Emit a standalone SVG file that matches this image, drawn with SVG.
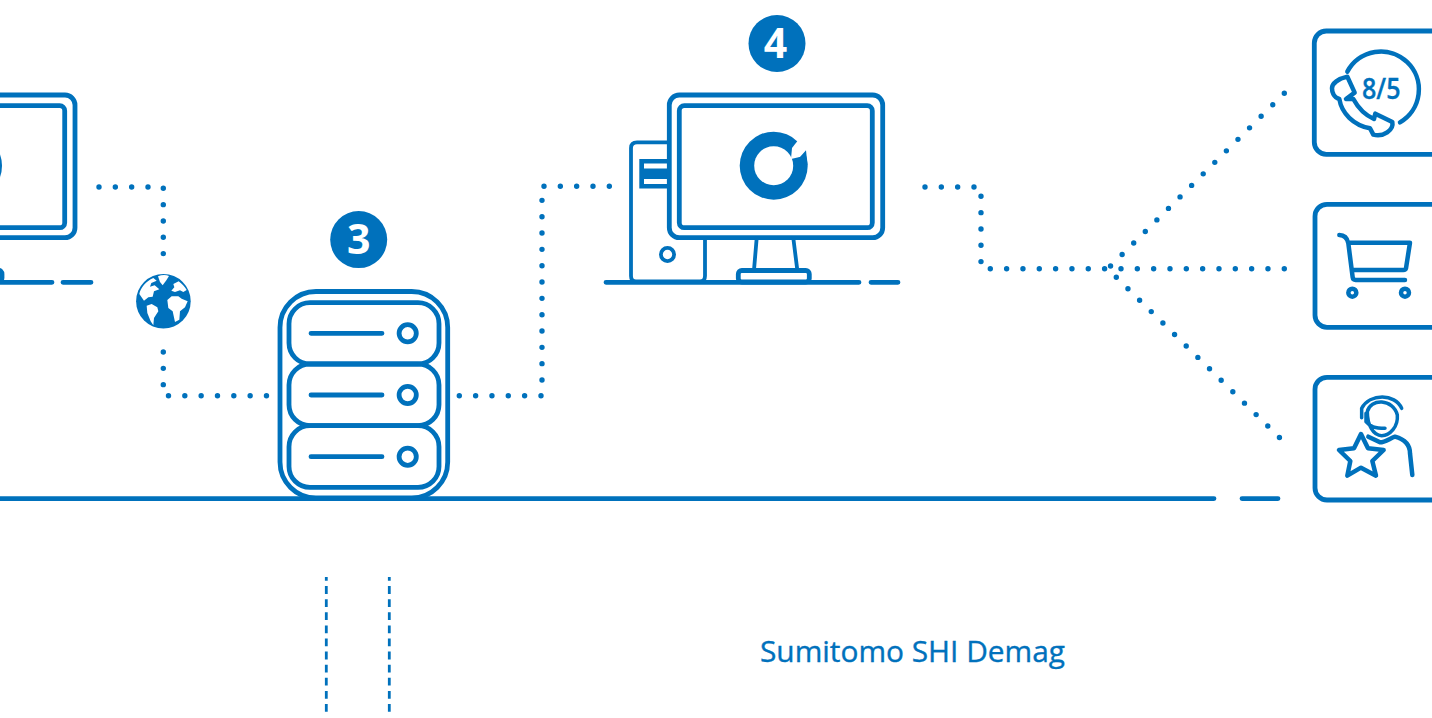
<svg xmlns="http://www.w3.org/2000/svg" width="1432" height="718" viewBox="0 0 1432 718">
<style>
.ln{fill:none;stroke:#0071bc;stroke-width:4.8;stroke-linecap:round;stroke-linejoin:round}
.th{fill:none;stroke:#0071bc;stroke-width:3.8;stroke-linecap:round;stroke-linejoin:round}
.dot{fill:none;stroke:#0071bc;stroke-width:5.4;stroke-linecap:round;stroke-dasharray:0 16.33}
.vd{fill:none;stroke:#0071bc;stroke-width:2.8;stroke-dasharray:7.8 5.3;stroke-dashoffset:4}
.icon{fill:none;stroke:#0071bc;stroke-width:13.5;stroke-linecap:round;stroke-linejoin:round}
.fillb{fill:#0071bc}
.badge{fill:#fff;font-family:"Open Sans","Noto Sans",sans-serif;font-weight:700;font-size:41px;text-anchor:middle}
</style>
<rect width="1432" height="718" fill="#fff"/>
<g id="connectors">
<path class="dot" d="M99 187H150M163.3 188.3V256M163.3 352V386M168.5 395.8H270M459.3 395.8H526M541 395.8H542M542 380V199M544 186.3H611M925 187H976M981 196.3V263M990.3 268.7H1106M1121 268.7H1286"/>
<path class="dot" d="M1284.3 93.3L1109.5 267"/>
<path class="dot" d="M1116.3 277.3L1281 439"/>
<path class="ln" d="M0 498.6H1214M1242 498.6H1278"/>
<line class="vd" x1="326.3" y1="577" x2="326.3" y2="713"/>
<line class="vd" x1="389.3" y1="577" x2="389.3" y2="713"/>
</g>
<g id="node-workstation-left">
<rect class="ln" x="-138" y="95" width="213" height="142.7" rx="10"/>
<rect class="ln" x="-128" y="105.7" width="192.7" height="122" rx="5"/>
<circle cx="-32" cy="165.7" r="34" class="fillb"/>
<circle cx="-32" cy="165.7" r="19.5" fill="#fff"/>
<rect class="ln" x="-40" y="270" width="42" height="12" rx="4"/>
<path class="ln" d="M0 282.3H52M63 282.3H91"/>
</g>
<g id="node-globe">
<circle cx="163.4" cy="301.2" r="27.3" class="fillb"/>
<g transform="translate(130 268) scale(.3333)" fill="#fff">
<path d="M28 78C32 58 48 40 70 30L80 38 64 45 60 56 74 52 88 64 72 70 68 86 55 88 42 98Z"/>
<path d="M84 25C95 20 108 20 117 24L108 38 98 52 90 42Z"/>
<path d="M50 113L65 108 82 118 85 130 72 150 70 172 62 160 52 135Z"/>
<path d="M130 48L146 40C156 48 164 56 170 66L160 72 150 67 135 72 124 68 133 58Z"/>
<path d="M112 96L125 85 145 85 155 92 173 100 165 118 150 130 148 155 135 162 128 130 115 120Z"/>
</g>
</g>
<g id="node-server">
<rect class="ln" x="280" y="291.5" width="167.7" height="206.5" rx="36"/>
<rect class="ln" x="289" y="302.7" width="150" height="61.3" rx="21"/>
<rect class="ln" x="289" y="364" width="150" height="61.7" rx="21"/>
<rect class="ln" x="289" y="425.7" width="150" height="61.7" rx="21"/>
<path class="ln" d="M311 333.3H382M311 395H382M311 456.7H382"/>
<circle class="ln" cx="407.7" cy="333.3" r="8.6"/>
<circle class="ln" cx="407.7" cy="395" r="8.6"/>
<circle class="ln" cx="407.7" cy="456.7" r="8.6"/>
</g>
<g id="node-badge-3">
<circle cx="358.7" cy="239.6" r="28.5" class="fillb"/>
<text class="badge" x="358.7" y="254">3</text>
</g>
<g id="node-workstation">
<path class="th" d="M669 142.3H637Q631 142.3 631 148V276Q631 281.5 636 281.5H700Q705 281.5 705 276V238"/>
<rect x="639.3" y="159" width="30" height="29.5" class="fillb"/>
<rect x="644" y="163.5" width="25.5" height="5" fill="#fff"/>
<rect x="644" y="179" width="25.5" height="5" fill="#fff"/>
<circle class="th" cx="667.5" cy="254.5" r="6.6"/>
<rect class="ln" x="669.3" y="95" width="213.4" height="142.7" rx="10"/>
<rect class="ln" x="679.3" y="105.7" width="193" height="122" rx="5"/>
<circle cx="773.7" cy="165.7" r="34" class="fillb"/>
<circle cx="773.7" cy="165.7" r="19.5" fill="#fff"/>
<path fill="#fff" d="M792 148L799 139 812 146 804 156 791 159Z"/>
<path class="fillb" d="M806 150.3L807.5 165 795 160 800 157Z"/>
<path class="th" d="M756.7 238L754 270M793.3 238L797.3 270"/>
<rect class="ln" x="738.3" y="270.5" width="71" height="11.5" rx="3.5"/>
<path class="ln" d="M606 282.3H859M871 282.3H898"/>
</g>
<g id="node-badge-4">
<circle cx="777" cy="43.5" r="28.5" class="fillb"/>
<text class="badge" x="775.5" y="57.5">4</text>
</g>
<g id="node-support-hours">
<rect class="ln" x="1314.3" y="31" width="140" height="123.3" rx="12"/>
<g transform="translate(1290 20) scale(.3333)">
<path class="icon" d="M172 155A114 114 0 1 1 330 307"/>
<path class="icon" d="M126 205C126 190 145 176 172 170L194 218 168 237 190 237C205 265 225 285 252 297L256 281 307 306C312 330 280 352 250 344L240 325C190 315 155 280 148 237C130 232 126 215 126 205Z"/>
</g>
<text x="1362" y="98.5" textLength="38.5" lengthAdjust="spacingAndGlyphs" font-family="Open Sans, Noto Sans, sans-serif" font-weight="600" font-size="28" fill="#0071bc" stroke="#0071bc" stroke-width=".3">8/5</text>
</g>
<g id="node-shop">
<rect class="ln" x="1315" y="204.3" width="140" height="123" rx="12"/>
<g transform="translate(1290 190) scale(.3333)">
<path class="icon" d="M148 135C165 135 172 145 175 160L188 262Q189 270 197 270H345M178 158H360L348 235Q347 240 340 240H185"/>
<circle class="icon" cx="187" cy="308" r="12"/>
<circle class="icon" cx="345" cy="308" r="12"/>
</g>
</g>
<g id="node-service">
<rect class="ln" x="1315" y="377.3" width="140" height="122.7" rx="12"/>
<g transform="translate(1290 365) scale(.3333)">
<path class="icon" style="stroke-width:10.5" d="M215 158V130C240 85 315 85 335 130M232 140C240 100 310 100 322 150C325 185 300 212 275 212C250 212 232 180 232 140M228 145V170C240 185 255 190 285 190"/>
<path class="icon" d="M235 215L270 232C285 232 300 220 315 215C340 222 360 235 360 265L367 330"/>
<path class="icon" d="M213 207L234 250 281 255 247 288 258 332 213 308 172 332 181 288 147 255 192 250Z" style="fill:#fff"/>
</g>
</g>
<g id="label-company">
<text x="760" y="662" font-family="Open Sans, Noto Sans, sans-serif" font-size="28.5" fill="#0071bc" stroke="#0071bc" stroke-width=".35" textLength="305" lengthAdjust="spacingAndGlyphs">Sumitomo SHI Demag</text>
</g>
</svg>
